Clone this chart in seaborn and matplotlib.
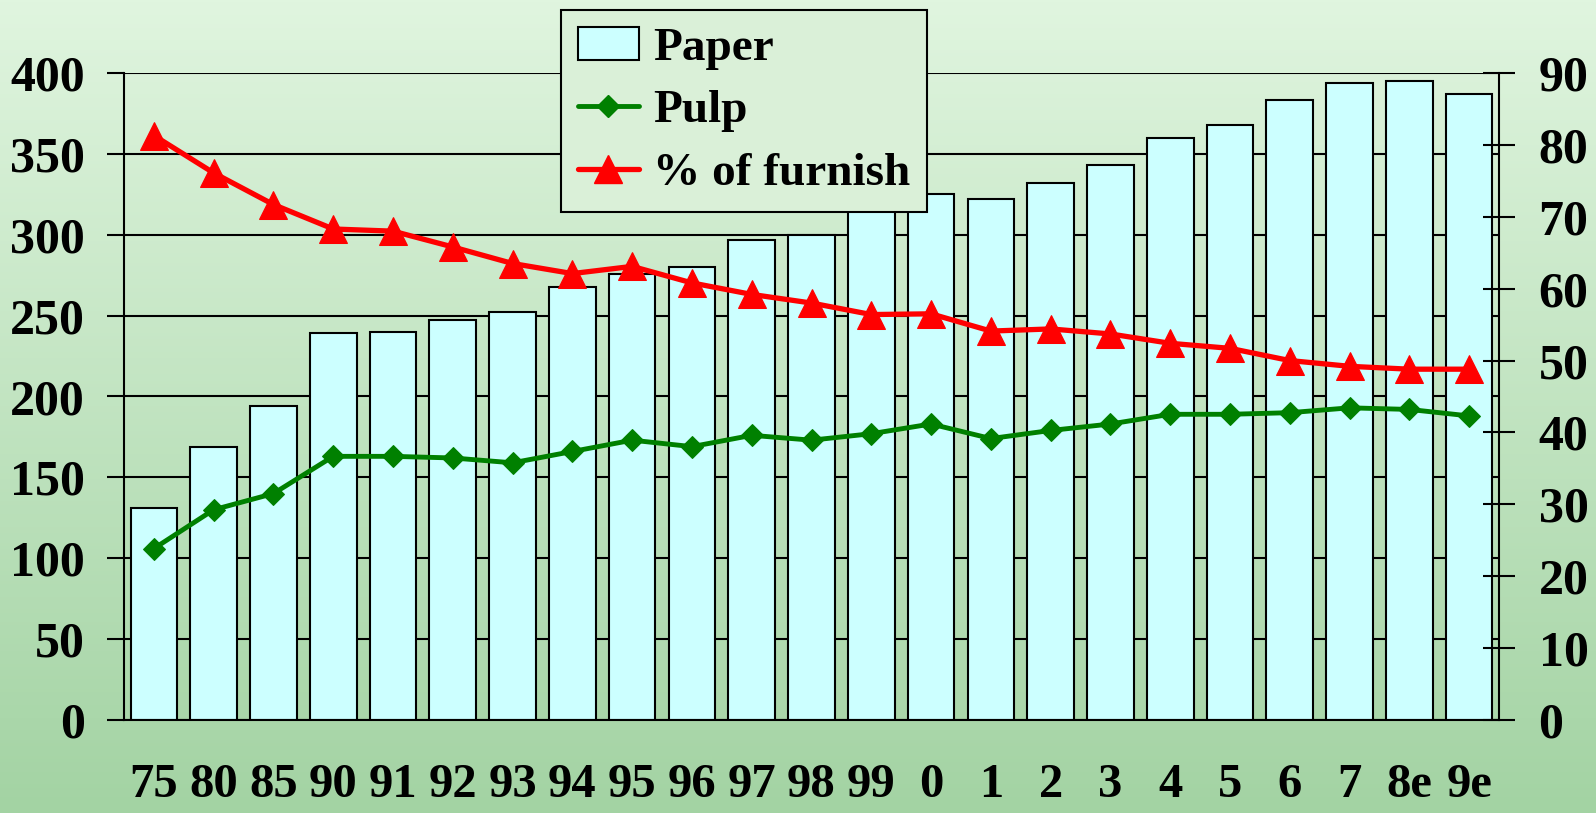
import numpy as np
import matplotlib
matplotlib.use('Agg')
import matplotlib.pyplot as plt
from matplotlib.patches import Patch
from matplotlib.lines import Line2D
from matplotlib.colors import LinearSegmentedColormap
import seaborn as sns

years = ['75', '80', '85', '90', '91', '92', '93', '94', '95', '96', '97', '98',
         '99', '0', '1', '2', '3', '4', '5', '6', '7', '8e', '9e']
paper = [131, 169, 194, 239, 240, 247, 252, 268, 276, 280, 297, 300,
         316, 325, 322, 332, 343, 360, 368, 383, 394, 395, 387]
pulp = [106, 130, 140, 163, 163, 162, 159, 166, 173, 169, 176, 173,
        177, 183, 174, 179, 183, 189, 189, 190, 193, 192, 188]
furnish = [81.3, 76.1, 71.7, 68.3, 68.0, 65.8, 63.5, 62.1, 63.1, 60.8, 59.2, 58.0,
           56.4, 56.5, 54.1, 54.4, 53.7, 52.4, 51.7, 50.0, 49.2, 48.8, 48.8]

sns.set_style('white')
plt.rcParams['font.family'] = ['Liberation Serif', 'DejaVu Serif']
plt.rcParams['font.weight'] = 'bold'
plt.rcParams['text.color'] = 'black'
plt.rcParams['xtick.color'] = 'black'
plt.rcParams['ytick.color'] = 'black'

W, H = 1596, 813
fig = plt.figure(figsize=(W / 100, H / 100), dpi=100)

# gradient background
bg = fig.add_axes([0, 0, 1, 1], zorder=-10)
cmap = LinearSegmentedColormap.from_list('bg', ['#e0f5df', '#a3d3a3'])
bg.imshow(np.linspace(0, 1, 256).reshape(-1, 1), aspect='auto', cmap=cmap, extent=[0, 1, 0, 1])
bg.axis('off')

left, right, top, bottom = 124, 1499, 73, 720
ax = fig.add_axes([left / W, 1 - bottom / H, (right - left) / W, (bottom - top) / H])
ax.set_facecolor('none')

x = np.arange(len(years))
sns.barplot(x=years, y=paper, ax=ax, color='#ccffff', saturation=1,
            edgecolor='black', linewidth=1.5, width=0.78)
sns.lineplot(x=x, y=pulp, ax=ax, color='#008000', marker='D', markersize=11,
             markeredgecolor='#008000', linewidth=3.5, zorder=3)

ax.set_xlim(-0.5, len(years) - 0.5)
ax.set_ylim(0, 400)
ax.set_yticks(range(0, 401, 50))
ax.yaxis.grid(True, color='black', linewidth=1.5)
ax.set_axisbelow(True)
for s in ['top', 'right']:
    ax.spines[s].set_visible(False)
for s in ['left', 'bottom']:
    ax.spines[s].set_color('black')
    ax.spines[s].set_linewidth(1.5)
ax.set_xlabel('')
ax.set_ylabel('')

# tick marks sit between the bars, labels under the bars
ax.set_xticks(np.arange(-0.5, len(years)), labels=[''] * (len(years) + 1))
ax.set_xticks(x, labels=years, minor=True)
ax.tick_params(axis='x', which='major', direction='out', length=11.5, width=1.5)
ax.tick_params(axis='x', which='minor', length=0, pad=31, labelsize=35)
ax.tick_params(axis='y', direction='out', length=12, width=1.5,
               labelsize=36, pad=16, left=True)

ax2 = ax.twinx()
sns.lineplot(x=x, y=furnish, ax=ax2, color='#ff0000', marker='^', markersize=20,
             markeredgecolor='#ff0000', linewidth=3.8)
ax2.set_ylim(0, 90)
ax2.set_yticks(range(0, 91, 10))
ax2.set_ylabel('')
for s in ['top', 'left', 'bottom']:
    ax2.spines[s].set_visible(False)
ax2.spines['right'].set_color('black')
ax2.spines['right'].set_linewidth(1.5)
ax2.tick_params(axis='y', direction='inout', length=23, width=1.5,
                labelsize=36, pad=17, right=True)

handles = [
    Patch(facecolor='#ccffff', edgecolor='black', linewidth=1.5),
    Line2D([], [], color='#008000', marker='D', markersize=11, linewidth=3.5),
    Line2D([], [], color='#ff0000', marker='^', markersize=20, linewidth=3.8),
]
leg = ax2.legend(handles, ['Paper', 'Pulp', '% of furnish'], loc='upper left',
                 bbox_to_anchor=(561 / W, 1 - 10 / H), bbox_transform=fig.transFigure,
                 borderaxespad=0, fontsize=34, fancybox=False, framealpha=1,
                 facecolor='#daf0d8', edgecolor='black', handlelength=1.3,
                 handletextpad=0.3, labelspacing=0.42, borderpad=0.35)
leg.get_frame().set_linewidth(1.5)

fig.savefig('out.png', dpi=100)
